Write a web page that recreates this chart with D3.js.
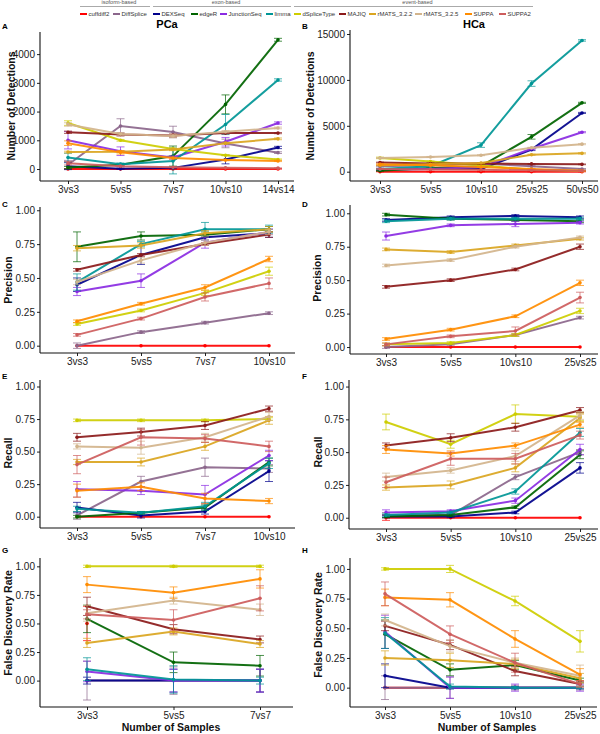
<!DOCTYPE html>
<html>
<head>
<meta charset="utf-8">
<script src="https://cdn.jsdelivr.net/npm/d3@7"></script>
<style>
body { margin: 0; background: #fff; }
text { font-family: "Liberation Sans", Arial, sans-serif; }
</style>
</head>
<body>
<svg id="chart" width="600" height="734"></svg>
<script>
// methods, in legend order
const methods = ['cuffdiff2', 'DiffSplice', 'DEXSeq', 'edgeR', 'JunctionSeq', 'limma',
  'dSpliceType', 'MAJIQ', 'rMATS_3.2.2', 'rMATS_3.2.5', 'SUPPA', 'SUPPA2'];
const colors = ['#ff0000', '#8b668b', '#00008b', '#006400', '#8a2be2', '#009696',
  '#cdcd00', '#8b1a1a', '#daa520', '#d2b48c', '#ff8c00', '#cd5c5c'];
const groups = [['isoform-based', 0, 1], ['exon-based', 2, 5], ['event-based', 6, 11]];

// sample sizes
const pcaCats = ['3vs3', '5vs5', '7vs7', '10vs10', '14vs14'];
const hcaCats = ['3vs3', '5vs5', '10vs10', '25vs25', '50vs50'];
const pcaCats4 = ['3vs3', '5vs5', '7vs7', '10vs10'];
const hcaCats4 = ['3vs3', '5vs5', '10vs10', '25vs25'];
const pcaCats3 = ['3vs3', '5vs5', '7vs7'];

// A: PCa number of detections (one row per method)
const pcaDetect = [
  [5, 5, 5, 5, 5],
  [150, 1500, 1290, 890, 570],
  [100, 10, 40, 330, 750],
  [50, 150, 450, 2250, 4500],
  [1000, 620, 400, 950, 1600],
  [400, 170, 280, 1550, 3100],
  [1600, 1000, 700, 480, 330],
  [1280, 1200, 1170, 1250, 1250],
  [590, 600, 680, 900, 1050],
  [1550, 1220, 1150, 1300, 1430],
  [900, 580, 380, 310, 280],
  [200, 100, 60, 40, 30]];
const pcaDetectErr = [
  [10, 10, 10, 10, 10],
  [150, 250, 200, 150, 30],
  [120, 20, 30, 150, 40],
  [40, 40, 350, 330, 50],
  [300, 150, 60, 150, 40],
  [150, 40, 450, 350, 40],
  [80, 30, 30, 20, 20],
  [40, 50, 50, 30, 20],
  [30, 30, 40, 30, 30],
  [60, 40, 60, 40, 30],
  [80, 60, 30, 20, 20],
  [60, 20, 10, 10, 10]];

// B: HCa number of detections
const hcaDetect = [
  [5, 5, 5, 5, 5],
  [600, 700, 900, 600, 300],
  [200, 300, 300, 2400, 6400],
  [100, 400, 600, 3800, 7500],
  [300, 300, 500, 2500, 4300],
  [300, 600, 2900, 9600, 14300],
  [1500, 1100, 700, 200, 100],
  [1000, 900, 900, 850, 800],
  [700, 800, 950, 1850, 2000],
  [1500, 1600, 1800, 2600, 3000],
  [800, 700, 500, 300, 100],
  [300, 250, 200, 150, 100]];
const hcaDetectErr = [
  [20, 20, 20, 20, 20],
  [60, 60, 80, 60, 40],
  [60, 60, 60, 100, 60],
  [40, 60, 80, 250, 60],
  [60, 60, 60, 100, 60],
  [60, 100, 250, 300, 80],
  [80, 60, 60, 40, 40],
  [40, 40, 40, 40, 40],
  [40, 40, 40, 60, 60],
  [60, 60, 60, 60, 60],
  [60, 60, 40, 40, 40],
  [40, 40, 40, 40, 40]];

// C: PCa precision
const pcaPrec = [
  [0, 0, 0, 0],
  [0.00, 0.10, 0.17, 0.24],
  [0.45, 0.67, 0.80, 0.83],
  [0.73, 0.81, 0.82, 0.86],
  [0.40, 0.48, 0.76, 0.84],
  [0.47, 0.75, 0.86, 0.86],
  [0.16, 0.26, 0.39, 0.55],
  [0.56, 0.67, 0.75, 0.82],
  [0.72, 0.74, 0.83, 0.86],
  [0.47, 0.63, 0.76, 0.84],
  [0.18, 0.31, 0.43, 0.64],
  [0.08, 0.20, 0.36, 0.46]];
const pcaPrecErr = [
  [0, 0, 0, 0],
  [0.02, 0.01, 0.01, 0.01],
  [0.05, 0.07, 0.02, 0.03],
  [0.11, 0.03, 0.02, 0.02],
  [0.03, 0.05, 0.04, 0.02],
  [0.06, 0.02, 0.05, 0.03],
  [0.01, 0.01, 0.02, 0.03],
  [0.01, 0.01, 0.01, 0.02],
  [0.02, 0.02, 0.02, 0.02],
  [0.02, 0.02, 0.02, 0.02],
  [0.01, 0.01, 0.02, 0.02],
  [0.01, 0.01, 0.03, 0.04]];

// D: HCa precision
const hcaPrec = [
  [0, 0, 0, 0],
  [0.00, 0.02, 0.09, 0.22],
  [0.95, 0.97, 0.98, 0.97],
  [0.99, 0.96, 0.95, 0.94],
  [0.83, 0.91, 0.92, 0.93],
  [0.94, 0.96, 0.96, 0.96],
  [0.02, 0.03, 0.09, 0.27],
  [0.45, 0.50, 0.58, 0.75],
  [0.73, 0.71, 0.76, 0.81],
  [0.61, 0.65, 0.75, 0.82],
  [0.06, 0.13, 0.23, 0.48],
  [0.02, 0.08, 0.12, 0.37]];
const hcaPrecErr = [
  [0, 0, 0, 0],
  [0.01, 0.01, 0.01, 0.01],
  [0.01, 0.01, 0.01, 0.01],
  [0.01, 0.01, 0.01, 0.01],
  [0.03, 0.01, 0.02, 0.01],
  [0.01, 0.01, 0.01, 0.01],
  [0.01, 0.01, 0.01, 0.02],
  [0.01, 0.01, 0.01, 0.02],
  [0.01, 0.01, 0.01, 0.01],
  [0.01, 0.01, 0.01, 0.01],
  [0.01, 0.01, 0.01, 0.02],
  [0.01, 0.01, 0.03, 0.04]];

// E: PCa recall
const pcaRecall = [
  [0, 0, 0, 0],
  [0.01, 0.27, 0.38, 0.37],
  [0.07, 0.01, 0.04, 0.35],
  [0.00, 0.03, 0.07, 0.42],
  [0.21, 0.20, 0.17, 0.47],
  [0.06, 0.03, 0.08, 0.41],
  [0.74, 0.74, 0.74, 0.75],
  [0.61, 0.65, 0.70, 0.83],
  [0.42, 0.42, 0.54, 0.74],
  [0.54, 0.53, 0.61, 0.77],
  [0.20, 0.23, 0.14, 0.12],
  [0.40, 0.61, 0.60, 0.54]];
const pcaRecallErr = [
  [0, 0, 0, 0],
  [0.03, 0.04, 0.07, 0.03],
  [0.04, 0.02, 0.02, 0.08],
  [0.01, 0.01, 0.02, 0.03],
  [0.06, 0.03, 0.07, 0.04],
  [0.02, 0.01, 0.03, 0.04],
  [0.01, 0.01, 0.01, 0.01],
  [0.03, 0.03, 0.03, 0.02],
  [0.02, 0.03, 0.03, 0.03],
  [0.02, 0.05, 0.03, 0.03],
  [0.05, 0.03, 0.04, 0.02],
  [0.07, 0.06, 0.03, 0.04]];

// F: HCa recall
const hcaRecall = [
  [0, 0, 0, 0],
  [0.02, 0.02, 0.31, 0.50],
  [0.01, 0.01, 0.04, 0.38],
  [0.01, 0.02, 0.08, 0.48],
  [0.04, 0.05, 0.13, 0.52],
  [0.02, 0.04, 0.20, 0.65],
  [0.73, 0.56, 0.79, 0.77],
  [0.55, 0.61, 0.69, 0.82],
  [0.23, 0.25, 0.38, 0.76],
  [0.31, 0.36, 0.47, 0.78],
  [0.52, 0.49, 0.55, 0.71],
  [0.27, 0.45, 0.45, 0.63]];
const hcaRecallErr = [
  [0.02, 0, 0, 0],
  [0.02, 0.01, 0.02, 0.02],
  [0.01, 0.01, 0.01, 0.04],
  [0.01, 0.01, 0.01, 0.03],
  [0.02, 0.01, 0.02, 0.04],
  [0.01, 0.01, 0.02, 0.03],
  [0.06, 0.03, 0.07, 0.03],
  [0.02, 0.03, 0.03, 0.02],
  [0.02, 0.03, 0.03, 0.03],
  [0.03, 0.02, 0.04, 0.03],
  [0.03, 0.02, 0.02, 0.02],
  [0.04, 0.05, 0.04, 0.03]];

// G: PCa false discovery rate
const pcaFdr = [
  [0.50, null, null],
  [0.00, 0.00, 0.00],
  [0.00, 0.00, 0.00],
  [0.54, 0.16, 0.13],
  [0.08, 0.00, 0.00],
  [0.10, 0.01, 0.00],
  [1.00, 1.00, 1.00],
  [0.65, 0.45, 0.36],
  [0.33, 0.43, 0.32],
  [0.59, 0.70, 0.62],
  [0.84, 0.77, 0.89],
  [0.58, 0.53, 0.72]];
const pcaFdrErr = [
  [0.15, 0, 0],
  [0.17, 0.12, 0.10],
  [0.03, 0.10, 0.10],
  [0.12, 0.09, 0.09],
  [0.09, 0.10, 0.10],
  [0.10, 0.12, 0.03],
  [0.01, 0.01, 0.01],
  [0.08, 0.04, 0.03],
  [0.04, 0.03, 0.03],
  [0.07, 0.03, 0.05],
  [0.07, 0.05, 0.08],
  [0.04, 0.09, 0.11]];

// H: HCa false discovery rate
const hcaFdr = [
  [0, 0, 0, 0],
  [0, 0, 0, 0],
  [0.10, 0.00, 0.00, 0.00],
  [0.45, 0.15, 0.19, 0.06],
  [0.47, 0.00, 0.00, 0.00],
  [0.46, 0.01, 0.00, 0.00],
  [1.00, 1.00, 0.73, 0.39],
  [0.52, 0.36, 0.14, 0.03],
  [0.25, 0.23, 0.20, 0.08],
  [0.57, 0.35, 0.21, 0.10],
  [0.76, 0.74, 0.41, 0.11],
  [0.79, 0.45, 0.21, 0.03]];
const hcaFdrErr = [
  [0, 0, 0, 0],
  [0.10, 0.09, 0.02, 0.02],
  [0.10, 0.01, 0.01, 0.01],
  [0.12, 0.05, 0.04, 0.02],
  [0.14, 0.09, 0.03, 0.03],
  [0.13, 0.02, 0.01, 0.01],
  [0.01, 0.03, 0.04, 0.09],
  [0.04, 0.04, 0.04, 0.02],
  [0.06, 0.06, 0.04, 0.04],
  [0.05, 0.05, 0.04, 0.09],
  [0.07, 0.06, 0.07, 0.05],
  [0.10, 0.07, 0.08, 0.03]];

const fmt2 = d3.format('.2f'), fmt0 = d3.format('d');
const rateTicks = [0, 0.25, 0.5, 0.75, 1];

// panel layout (axis x, plot top/bottom, first/last category x)
const panels = [
  {id: 'A', title: 'PCa', tx: 167, yt: 'Number of Detections', cats: pcaCats, vals: pcaDetect, errs: pcaDetectErr,
    ax: 40, top: 32, bot: 181, right: 294, x0: 68, x1: 278, dom: [-417, 4770], ticks: [0, 1000, 2000, 3000, 4000], f: fmt0,
    lx: 2, ly: 29, ytx: 11, yty: 106},
  {id: 'B', title: 'HCa', tx: 474, yt: 'Number of Detections', cats: hcaCats, vals: hcaDetect, errs: hcaDetectErr,
    ax: 350, top: 30, bot: 181, right: 598, x0: 380, x1: 582, dom: [-1013, 15436], ticks: [0, 5000, 10000, 15000], f: fmt0,
    lx: 302, ly: 29, ytx: 310, yty: 106},
  {id: 'C', yt: 'Precision', cats: pcaCats4, vals: pcaPrec, errs: pcaPrecErr,
    ax: 40, top: 207, bot: 353, right: 295, x0: 77, x1: 269, dom: [-0.054, 1.024], ticks: rateTicks, f: fmt2,
    lx: 2, ly: 207, ytx: 8, yty: 280},
  {id: 'D', yt: 'Precision', cats: hcaCats4, vals: hcaPrec, errs: hcaPrecErr,
    ax: 350, top: 205, bot: 354, right: 598, x0: 386, x1: 580, dom: [-0.052, 1.062], ticks: rateTicks, f: fmt2,
    lx: 302, ly: 207, ytx: 317, yty: 278},
  {id: 'E', yt: 'Recall', cats: pcaCats4, vals: pcaRecall, errs: pcaRecallErr,
    ax: 40, top: 380, bot: 528, right: 295, x0: 77, x1: 269, dom: [-0.087, 1.05], ticks: rateTicks, f: fmt2,
    lx: 2, ly: 379, ytx: 8, yty: 453},
  {id: 'F', yt: 'Recall', cats: hcaCats4, vals: hcaRecall, errs: hcaRecallErr,
    ax: 349, top: 380, bot: 529, right: 598, x0: 386, x1: 580, dom: [-0.086, 1.05], ticks: rateTicks, f: fmt2,
    lx: 302, ly: 379, ytx: 318, yty: 452},
  {id: 'G', yt: 'False Discovery Rate', xt: 'Number of Samples', cats: pcaCats3, vals: pcaFdr, errs: pcaFdrErr,
    ax: 40, top: 558, bot: 707, right: 293, x0: 87, x1: 260, dom: [-0.231, 1.073], ticks: rateTicks, f: fmt2,
    lx: 2, ly: 553, ytx: 8, yty: 623, xtx: 171},
  {id: 'H', yt: 'False Discovery Rate', xt: 'Number of Samples', cats: hcaCats4, vals: hcaFdr, errs: hcaFdrErr,
    ax: 350, top: 558, bot: 707, right: 597, x0: 385, x1: 580, dom: [-0.163, 1.092], ticks: rateTicks, f: fmt2,
    lx: 302, ly: 553, ytx: 318, yty: 625, xtx: 487}
];

const svg = d3.select('#chart');

// ---- legend ----
const legendX = [80, 113, 153, 191, 220, 266, 294, 339, 369, 415, 465, 499];
const leg = svg.append('g');
groups.forEach(g => {
  const xa = legendX[g[1]], xb = (g[2] < 11 ? legendX[g[2] + 1] - 3 : 533);
  leg.append('line').attr('x1', xa).attr('x2', xb).attr('y1', 6.5).attr('y2', 6.5)
    .attr('stroke', '#aaa').attr('stroke-width', 1);
  leg.append('text').attr('x', (xa + xb) / 2 + 4).attr('y', 3.5).attr('text-anchor', 'middle')
    .attr('font-size', 5.5).attr('fill', '#555').text(g[0]);
});
methods.forEach((m, i) => {
  const lg = leg.append('g').attr('transform', `translate(${legendX[i]},14)`);
  lg.append('line').attr('x1', 0).attr('x2', 7).attr('stroke', colors[i]).attr('stroke-width', 2);
  lg.append('text').attr('x', 8.5).attr('dy', '0.35em').attr('font-size', 6).attr('fill', '#333').text(m);
});

// ---- panels ----
panels.forEach(p => {
  const g = svg.append('g');
  const x = d3.scalePoint().domain(p.cats).range([p.x0, p.x1]);
  const y = d3.scaleLinear().domain(p.dom).range([p.bot, p.top]);

  // axes
  const ya = g.append('g').attr('transform', `translate(${p.ax},0)`)
    .call(d3.axisLeft(y).tickValues(p.ticks).tickFormat(p.f).tickSize(3).tickPadding(2));
  const xa = g.append('g').attr('transform', `translate(0,${p.bot})`)
    .call(d3.axisBottom(x).tickSize(3).tickPadding(2));
  [ya, xa].forEach(a => {
    a.select('.domain').remove();
    a.selectAll('.tick line').attr('stroke', '#222');
    a.selectAll('.tick text').attr('font-size', 10).attr('fill', '#1a1a1a')
      .attr('font-family', '"Liberation Sans", Arial, sans-serif');
  });
  g.append('line').attr('x1', p.ax).attr('x2', p.ax).attr('y1', p.top).attr('y2', p.bot)
    .attr('stroke', '#111').attr('stroke-width', 1.1);
  g.append('line').attr('x1', p.ax).attr('x2', p.right).attr('y1', p.bot).attr('y2', p.bot)
    .attr('stroke', '#111').attr('stroke-width', 1.1);

  // titles
  g.append('text').attr('x', p.lx).attr('y', p.ly).attr('font-size', 8).attr('font-weight', 'bold').text(p.id);
  if (p.title) {
    g.append('text').attr('x', p.tx).attr('y', 27.5)
      .attr('text-anchor', 'middle').attr('font-size', 11).attr('font-weight', 'bold').text(p.title);
  }
  g.append('text').attr('transform', `translate(${p.ytx},${p.yty}) rotate(-90)`)
    .attr('text-anchor', 'middle').attr('dy', '0.35em').attr('font-size', 10.5).attr('font-weight', 'bold')
    .attr('fill', '#111').text(p.yt);
  if (p.xt) {
    g.append('text').attr('x', p.xtx).attr('y', 731).attr('text-anchor', 'middle')
      .attr('font-size', 10.5).attr('font-weight', 'bold').attr('fill', '#111').text(p.xt);
  }

  // series
  const line = d3.line().defined(d => d.v != null).x(d => x(d.c)).y(d => y(d.v));
  methods.forEach((m, i) => {
    const pts = p.cats.map((c, j) => ({c: c, v: p.vals[i][j], e: p.errs[i][j]}));
    const sg = g.append('g');
    // error bars
    pts.filter(d => d.v != null && d.e > 0).forEach(d => {
      const cx = x(d.c), ylo = y(d.v - d.e), yhi = y(d.v + d.e);
      sg.append('path')
        .attr('d', `M${cx},${ylo}V${yhi}M${cx - 4},${ylo}H${cx + 4}M${cx - 4},${yhi}H${cx + 4}`)
        .attr('fill', 'none').attr('stroke', colors[i]).attr('stroke-width', 1).attr('opacity', 0.7);
    });
    sg.append('path').datum(pts).attr('d', line)
      .attr('fill', 'none').attr('stroke', colors[i]).attr('stroke-width', 2).attr('opacity', 0.92);
    sg.selectAll('circle').data(pts.filter(d => d.v != null)).enter().append('circle')
      .attr('cx', d => x(d.c)).attr('cy', d => y(d.v)).attr('r', 1.8).attr('fill', colors[i]);
  });
});
</script>
</body>
</html>
